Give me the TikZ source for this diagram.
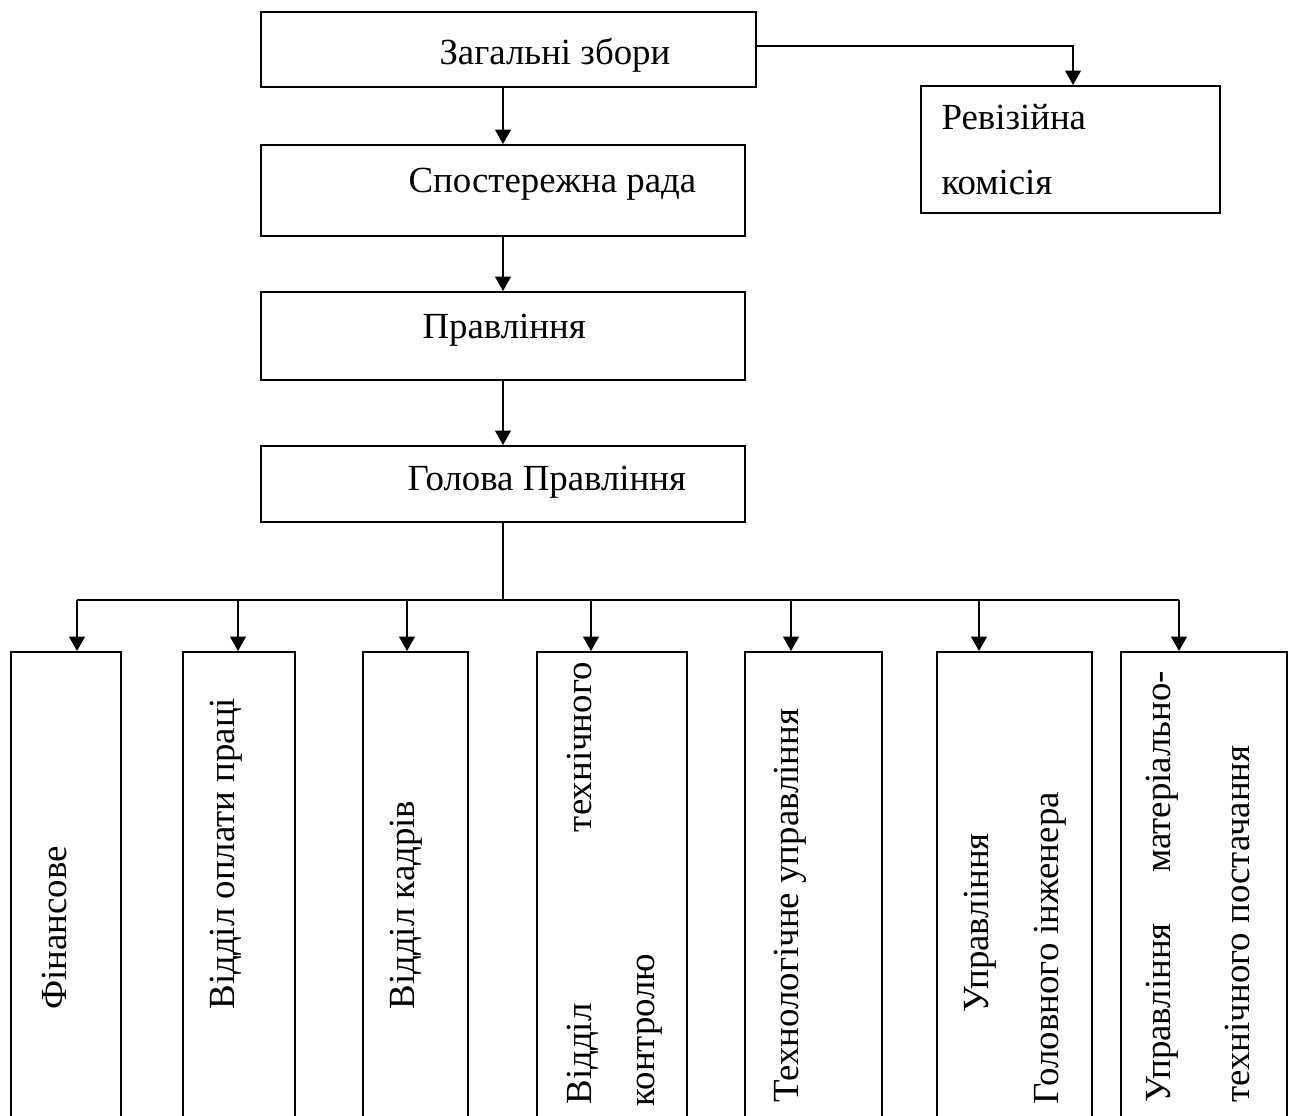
\documentclass[tikz,border=0pt]{standalone}
\usepackage{fontspec}
\setmainfont{Liberation Serif}
\usetikzlibrary{arrows.meta,fit}

\tikzset{
    box/.style={draw, line width=0.75pt, inner sep=0pt},
    arr/.style={line width=0.75pt, -{Triangle[length=5.5pt,width=6pt]}},
    lbl/.style={inner sep=0pt, anchor=base west},
    vlbl/.style={inner sep=0pt, rotate=90, anchor=west},
}

\begin{document}
\begin{tikzpicture}[x=0.38pt, y=-0.38pt, font=\fontsize{14pt}{17pt}\selectfont]
    \useasboundingbox (0,0) rectangle (1294,1116);
    \clip (0,0) rectangle (1294,1116);

    % upper chain
    \node[box, fit={(261,12) (756,87)}] (zbory) {};
    \node[box, fit={(261,145) (745,236)}] (rada) {};
    \node[box, fit={(261,292) (745,380)}] (pravl) {};
    \node[box, fit={(261,446) (745,522)}] (holova) {};
    \node[box, fit={(921,86) (1220,213)}] (reviz) {};

    \node[lbl] (zboryT) at (439,65) {Загальні збори};
    \node[lbl] (radaT) at (408,193) {Спостережна рада};
    \node[lbl] (pravlT) at (422,338) {Правління};
    \node[lbl] (holovaT) at (407,490) {Голова Правління};
    \node[lbl] (revizT1) at (941,130) {Ревізійна};
    \node[lbl] (revizT2) at (941,195) {комісія};

    \draw[arr] (zbory.south -| rada.north) -- (rada.north);
    \draw[arr] (rada.south) -- (pravl.north);
    \draw[arr] (pravl.south) -- (holova.north);

    \coordinate (kink) at (1073,46);
    \draw[arr] (zbory.east |- kink) -- (kink) -- (kink |- reviz.north);

    % departments
    \foreach \i/\xa/\xb/\ax in {1/11/121/77, 2/183/295/238, 3/363/468/407,
        4/537/687/591, 5/745/882/791, 6/937/1092/979, 7/1121/1287/1179} {
        \node[box, fit={(\xa,652) (\xb,1140)}] (d\i) {};
        \coordinate (t\i) at (\ax,600);
        \draw[arr] (t\i) -- (t\i |- d\i.north);
    }
    \draw[line width=0.75pt] (t1) -- (t7);
    \draw[line width=0.6pt] (holova.south) -- (holova.south |- t1);

    \node[vlbl] (d1T) at (54,1010) {Фінансове};
    \node[vlbl] (d2T) at (226,1010) {Відділ оплати праці};
    \node[vlbl] (d3T) at (406,1010) {Відділ кадрів};
    \node[vlbl, text width=168pt, align=left] (d4T1) at (583,1105) {Відділ\hfill технічного};
    \node[vlbl] (d4T2) at (650,1107) {контролю};
    \node[vlbl] (d5T) at (790,1103) {Технологічне управління};
    \node[vlbl] (d6T1) at (980,1013) {Управління};
    \node[vlbl] (d6T2) at (1050,1105) {Головного інженера};
    \node[vlbl, text width=164pt, align=left] (d7T1) at (1162,1103) {Управління\hfill матеріально-};
    \node[vlbl] (d7T2) at (1237,1103) {технічного постачання};
\end{tikzpicture}
\end{document}
